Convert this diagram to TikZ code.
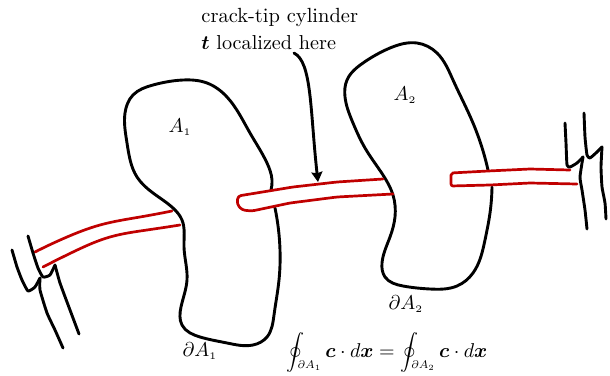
\documentclass[tikz,border=0pt]{standalone}
\usepackage{amsmath,amssymb,bm}
\usetikzlibrary{arrows.meta, hobby}

\newcommand{\contlab}[1]{\hspace{-3.5pt}\raisebox{2.5pt}{\scalebox{0.8}{$\scriptstyle\partial A_{\scriptscriptstyle #1}$}}}
\newcommand{\contint}[1]{\mathop{\vcenter{\hbox{\scalebox{0.9}{$\displaystyle\oint$}}}}\nolimits_{\contlab{#1}}}

\begin{document}
\begin{tikzpicture}[
    x=0.5pt, y=-0.5pt,
    >={Stealth[length=5pt, width=5.5pt, inset=0.6pt]},
    every node/.style={inner sep=0pt, font=\normalsize},
    boundary/.style={line width=1.45pt, line cap=round, line join=round, black},
    crackface/.style={line width=1.35pt, line cap=round, line join=round, crackred},
    ]
  \definecolor{crackred}{RGB}{192,0,0}
  \useasboundingbox (0,0) rectangle (610,375);

  % contours
  \draw[boundary, use Hobby shortcut] (271,190) .. (272,180) .. (267,163) .. (250,133) .. (227,97) .. (207,83) .. (183,80) .. (153,85) .. (133,95) .. (125,113) .. (127,143) .. (137,177) .. (153,193) .. (173,208) .. (182,220) .. (184,247) .. (187,280) .. (181,307) .. (182,325) .. (200,337) .. (227,343) .. (253,345) .. (267,337) .. (274,315) .. (279,280) .. (280,250) .. (275,208);
  \draw[boundary, use Hobby shortcut] (488,170) .. (473,123) .. (453,80) .. (437,53) .. (417,43) .. (390,48) .. (363,63) .. (347,80) .. (345,97) .. (353,123) .. (365,148) .. (383,175) .. (393,195) .. (395,217) .. (390,237) .. (382,263) .. (385,277) .. (403,286) .. (430,289) .. (457,286) .. (473,273) .. (485,240) .. (490,213) .. (492,187);

  % crack faces
  \draw[crackface, use Hobby shortcut] (35,252) .. (67,237) .. (100,225) .. (140,217) .. (172,211);
  \draw[crackface, use Hobby shortcut] (43,267) .. (73,252) .. (110,237) .. (147,230) .. (180,225);
  \draw[crackface, rounded corners=1.5pt] (383,179) -- (337,182) -- (293,187) -- (238,196) -- (237,204) -- (242,210) -- (252,211) -- (290,203) -- (337,197) -- (393,194);
  \draw[crackface, rounded corners=1pt] (570,170) -- (530,169) -- (488,171) -- (451,173) -- (451,186) -- (490,185) -- (530,183) -- (577,184);

  % rough ends
  \draw[boundary] plot[smooth, tension=0.3] coordinates {(28,236) (33,253) (38,268) (43,277) (50,275) (55,265)};
  \draw[boundary] plot[smooth, tension=0.3] coordinates {(55,265) (60,283) (70,310) (79,334)};
  \draw[boundary] plot[smooth, tension=0.3] coordinates {(12,250) (17,267) (22,280) (28,291) (35,287) (40,278)};
  \draw[boundary] plot[smooth, tension=0.3] coordinates {(40,278) (40,290) (47,313) (55,330) (63,348)};
  \draw[boundary] plot[smooth, tension=0.3] coordinates {(565,123) (566,143) (567,165) (570,167) (577,163) (583,157)};
  \draw[boundary] plot[smooth, tension=0.3] coordinates {(583,157) (580,177) (582,190) (585,210) (587,229)};
  \draw[boundary] plot[smooth, tension=0.3] coordinates {(584,113) (585,137) (587,155) (590,158) (597,152) (602,147)};
  \draw[boundary] plot[smooth, tension=0.3] coordinates {(602,147) (601,167) (602,187) (605,203) (606,219)};

  % labels
  \node[anchor=west] (cyl) at (201,17) {\fontsize{10.25}{12}\selectfont crack-tip cylinder};
  \node[anchor=west] (tlab) at (201,43) {\fontsize{10.1}{12}\selectfont $\bm{t}$ localized here};
  \node (areaone) at (180,127) {$A_{\scriptscriptstyle 1}$};
  \node (areatwo) at (405,95) {$A_{\scriptscriptstyle 2}$};
  \node (bdone) at (200,351) {$\partial A_{\scriptscriptstyle 1}$};
  \node (bdtwo) at (406,304) {$\partial A_{\scriptscriptstyle 2}$};
  \node (cons) at (387,353) {$\displaystyle\contint{1}\bm{c}\cdot d\bm{x}=\contint{2}\bm{c}\cdot d\bm{x}$};

  \coordinate (arrowfrom) at (294,53);
  \coordinate (arrowto) at (318,182);
  \draw[boundary, ->] (arrowfrom) .. controls (312,62) and (310,110) .. (arrowto);
\end{tikzpicture}
\end{document}
